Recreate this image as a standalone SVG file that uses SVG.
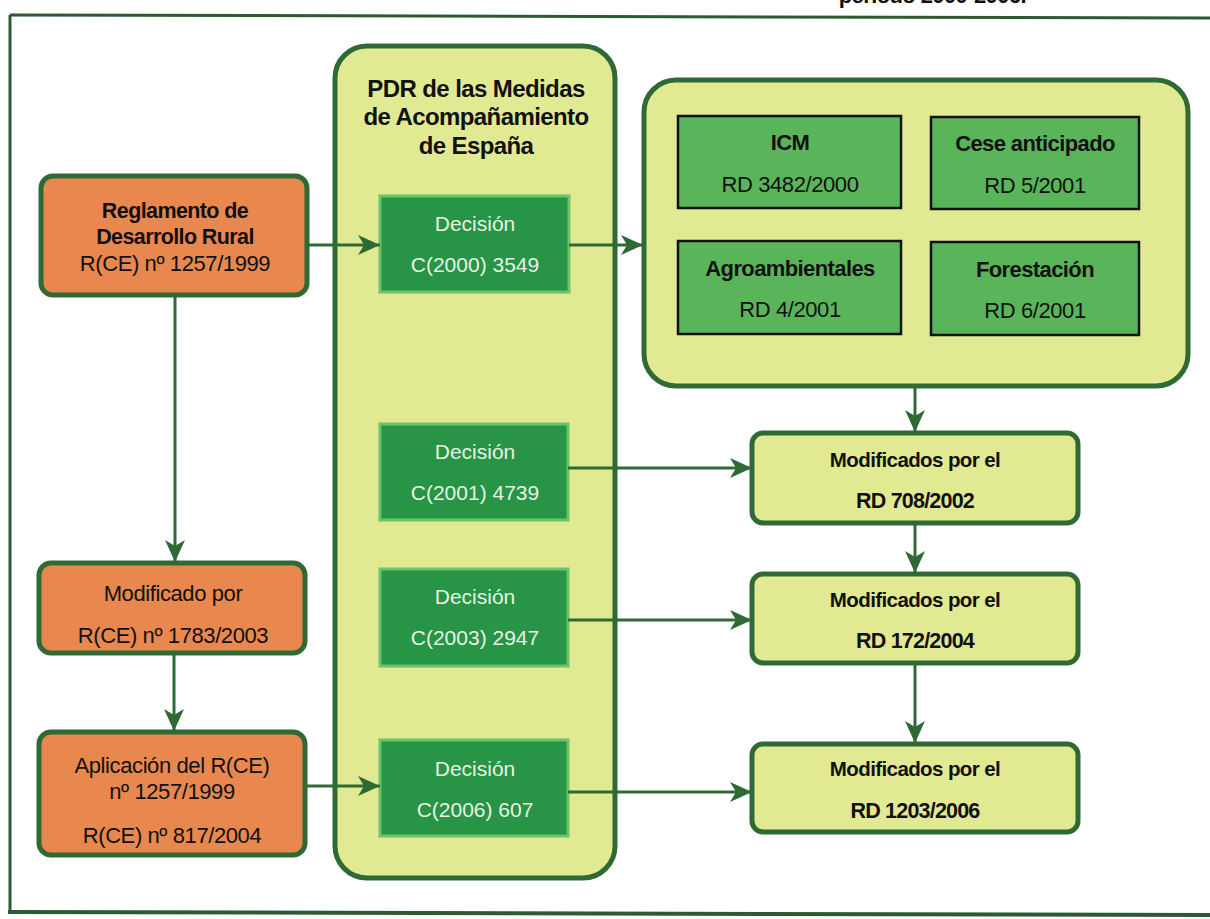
<svg xmlns="http://www.w3.org/2000/svg" width="1210" height="919" viewBox="0 0 1210 919">
<defs>
<style>
.frame{stroke:#2b5a33;stroke-width:3;fill:none}
.orange{fill:#e8874e;stroke:#2f6a35;stroke-width:5}
.pale{fill:#e1ea92;stroke:#2f6a35;stroke-width:5}
.dec{fill:#279446;stroke:#6cc36a;stroke-width:3}
.sub{fill:#5ab55a;stroke:#111;stroke-width:2.5}
.conn{stroke:#2f6a35;stroke-width:3;fill:none;marker-end:url(#ah)}
text{font-family:"Liberation Sans",Arial,sans-serif;text-anchor:middle}
.b{font-weight:bold;fill:#111;font-size:20.5px;letter-spacing:-0.6px}
.bo{font-weight:bold;fill:#111;font-size:21.5px;letter-spacing:-0.6px}
.bs{font-weight:bold;fill:#111;font-size:22px;letter-spacing:-0.6px}
.r{fill:#111;font-size:22px;letter-spacing:-0.4px}
.rb{font-weight:bold;fill:#111;font-size:21.5px;letter-spacing:-0.8px}
.w{fill:#e8f2e4;font-size:21px}
.t{font-weight:bold;fill:#111;font-size:24px;letter-spacing:-0.6px}
</style>
<marker id="ah" markerUnits="userSpaceOnUse" markerWidth="24" markerHeight="22" refX="22" refY="10" orient="auto" viewBox="0 0 24 22">
<path d="M0,0 L22,10 L0,20 L6,10 z" fill="#2f6a35"/>
</marker>
</defs>
<rect width="1210" height="919" fill="#ffffff"/>
<text x="1026" y="3" class="t" style="font-size:22px;text-anchor:end">periodo 2000-2006.</text>
<g id="frame">
<path class="frame" d="M10,15 L1210,18"/>
<path class="frame" d="M10,15 V912"/>
<path class="frame" d="M8,912 L1210,915" style="stroke-width:4"/>
</g>
<g id="pdr">
<rect class="pale" x="335" y="46" width="280" height="832" rx="32"/>
<text class="t" x="476" y="97">PDR de las Medidas</text>
<text class="t" x="476" y="125">de Acompañamiento</text>
<text class="t" x="476" y="154">de España</text>
</g>
<g id="medidas">
<rect class="pale" x="644" y="80" width="544" height="306" rx="32"/>
</g>
<g id="icm">
<rect class="sub" x="678" y="116" width="223" height="92"/>
<text class="bs" x="790" y="150">ICM</text>
<text class="r" x="790" y="192">RD 3482/2000</text>
</g>
<g id="cese">
<rect class="sub" x="931" y="117" width="208" height="92"/>
<text class="bs" x="1035" y="151">Cese anticipado</text>
<text class="r" x="1035" y="193">RD 5/2001</text>
</g>
<g id="agro">
<rect class="sub" x="678" y="241" width="223" height="93"/>
<text class="bs" x="790" y="276">Agroambientales</text>
<text class="r" x="790" y="317">RD 4/2001</text>
</g>
<g id="fores">
<rect class="sub" x="931" y="242" width="208" height="93"/>
<text class="bs" x="1035" y="277">Forestación</text>
<text class="r" x="1035" y="318">RD 6/2001</text>
</g>
<g id="reglamento">
<rect class="orange" x="41" y="176" width="266" height="119" rx="12"/>
<text class="bo" x="175" y="218">Reglamento de</text>
<text class="bo" x="175" y="244">Desarrollo Rural</text>
<text class="r" x="175" y="271">R(CE) nº 1257/1999</text>
</g>
<g id="modificado">
<rect class="orange" x="39" y="563" width="266" height="90" rx="12"/>
<text class="r" x="173" y="601">Modificado por</text>
<text class="r" x="173" y="643">R(CE) nº 1783/2003</text>
</g>
<g id="aplicacion">
<rect class="orange" x="39" y="732" width="266" height="123" rx="12"/>
<text class="r" x="172" y="773">Aplicación del R(CE)</text>
<text class="r" x="172" y="799">nº 1257/1999</text>
<text class="r" x="172" y="843">R(CE) nº 817/2004</text>
</g>
<g id="dec1">
<rect class="dec" x="380" y="196" width="189" height="96"/>
<text class="w" x="475" y="231">Decisión</text>
<text class="w" x="475" y="272">C(2000) 3549</text>
</g>
<g id="dec2">
<rect class="dec" x="380" y="424" width="188" height="96"/>
<text class="w" x="475" y="459">Decisión</text>
<text class="w" x="475" y="500">C(2001) 4739</text>
</g>
<g id="dec3">
<rect class="dec" x="380" y="569" width="188" height="97"/>
<text class="w" x="475" y="604">Decisión</text>
<text class="w" x="475" y="645">C(2003) 2947</text>
</g>
<g id="dec4">
<rect class="dec" x="380" y="740" width="188" height="96"/>
<text class="w" x="475" y="776">Decisión</text>
<text class="w" x="475" y="817">C(2006) 607</text>
</g>
<g id="mod1">
<rect class="pale" x="752" y="433" width="326" height="90" rx="11"/>
<text class="b" x="915" y="467">Modificados por el</text>
<text class="rb" x="915" y="508">RD 708/2002</text>
</g>
<g id="mod2">
<rect class="pale" x="752" y="574" width="326" height="89" rx="11"/>
<text class="b" x="915" y="607">Modificados por el</text>
<text class="rb" x="915" y="648">RD 172/2004</text>
</g>
<g id="mod3">
<rect class="pale" x="752" y="744" width="326" height="88" rx="11"/>
<text class="b" x="915" y="776">Modificados por el</text>
<text class="rb" x="915" y="818">RD 1203/2006</text>
</g>
<g id="connectors">
<path class="conn" d="M307,245 H380"/>
<path class="conn" d="M175,295 V562"/>
<path class="conn" d="M174,653 V731"/>
<path class="conn" d="M305,786 H380"/>
<path class="conn" d="M569,245 H643"/>
<path class="conn" d="M568,468 H752"/>
<path class="conn" d="M568,620 H752"/>
<path class="conn" d="M568,792 H752"/>
<path class="conn" d="M915,386 V432"/>
<path class="conn" d="M915,523 V573"/>
<path class="conn" d="M915,663 V743"/>
</g>
</svg>
